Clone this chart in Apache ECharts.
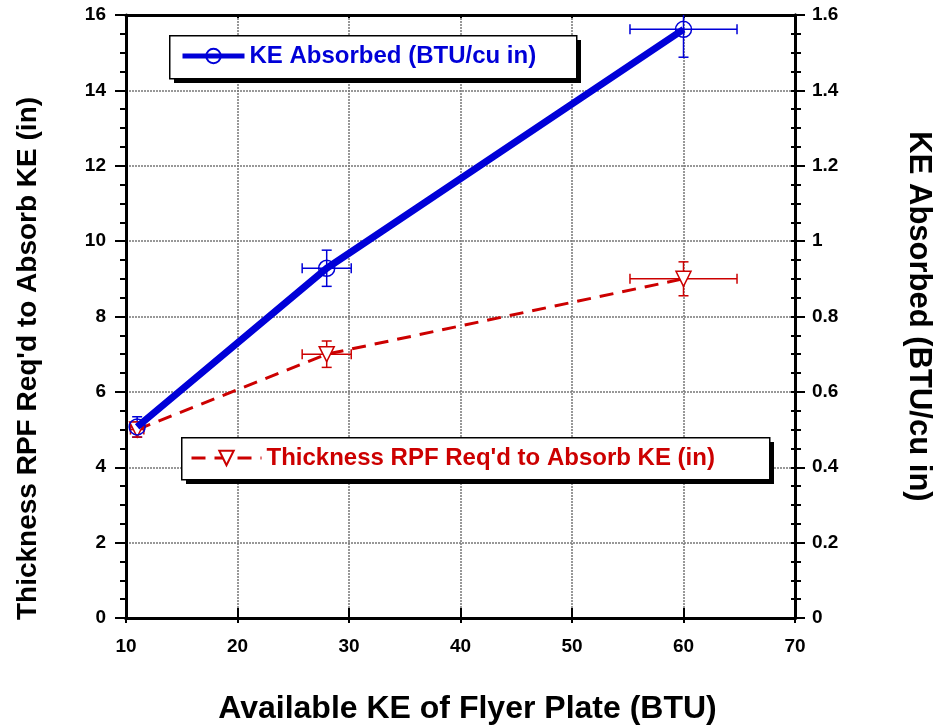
<!DOCTYPE html>
<html>
<head>
<meta charset="utf-8">
<script src="https://cdn.jsdelivr.net/npm/echarts@6/dist/echarts.min.js"></script>
<style>
  html, body { margin: 0; padding: 0; background: #fff; }
  #chart { width: 937px; height: 728px; }
</style>
</head>
<body>
<div id="chart"></div>
<script>
// x values (BTU)
var keAvailable = [11, 28, 60]
var keAvailableErr = [0.6, 2.2, 4.8]
// KE absorbed, right axis (BTU/cu in)
var keAbsorbed = [0.507, 0.928, 1.562]
var keAbsorbedErr = [0.027, 0.048, 0.074]
// thickness, left axis (in)
var thickness = [5.0, 7.0, 9.0]
var thicknessErr = [0.2, 0.35, 0.45]

var FONT = 'Liberation Sans, Arial, sans-serif'
var BLUE = '#0000d8'
var RED = '#cc0000'

var chart = echarts.init(document.getElementById('chart'))

function errItems(xs, ys, exs, eys) {
  return xs.map(function (x, i) { return [x, ys[i], exs[i], eys[i]] })
}

function renderErr(color) {
  return function (params, api) {
    var x = api.value(0), y = api.value(1), ex = api.value(2), ey = api.value(3)
    var l = api.coord([x - ex, y]), r = api.coord([x + ex, y])
    var t = api.coord([x, y + ey]), b = api.coord([x, y - ey])
    var top = params.coordSys.y
    var cap = 5
    var st = { stroke: color, lineWidth: 1.5 }
    var kids = [
      { type: 'line', shape: { x1: l[0], y1: l[1], x2: r[0], y2: r[1] }, style: st },
      { type: 'line', shape: { x1: l[0], y1: l[1] - cap, x2: l[0], y2: l[1] + cap }, style: st },
      { type: 'line', shape: { x1: r[0], y1: r[1] - cap, x2: r[0], y2: r[1] + cap }, style: st },
      { type: 'line', shape: { x1: t[0], y1: Math.max(t[1], top), x2: b[0], y2: b[1] }, style: st },
      { type: 'line', shape: { x1: b[0] - cap, y1: b[1], x2: b[0] + cap, y2: b[1] }, style: st }
    ]
    if (t[1] >= top) {
      kids.push({ type: 'line', shape: { x1: t[0] - cap, y1: t[1], x2: t[0] + cap, y2: t[1] }, style: st })
    }
    return { type: 'group', children: kids }
  }
}

// legend frame with a hard black drop shadow
function legendBox(x, y, w, h) {
  return [{
    type: 'rect', z: 5, left: x + 5, top: y + 5,
    shape: { width: w, height: h },
    style: { fill: '#000' }
  }, {
    type: 'rect', z: 5, left: x, top: y,
    shape: { width: w, height: h },
    style: { fill: '#fff', stroke: '#000', lineWidth: 1.5 }
  }]
}

var tickLabel = { color: '#000', fontFamily: FONT, fontWeight: 'bold', fontSize: 19 }
var dotted = { show: true, lineStyle: { color: '#777', width: 1.5, type: [2, 1] } }
var axLine = { show: true, lineStyle: { color: '#000', width: 3 } }
var tickStyle = { color: '#000', width: 2 }

chart.setOption({
  backgroundColor: '#fff',
  animation: false,
  textStyle: { fontFamily: FONT },
  grid: { left: 126, right: 142, top: 15, bottom: 110, outerBoundsMode: 'none', containLabel: false },
  graphic: legendBox(169, 35, 407, 43).concat(legendBox(181, 437, 588, 42)),
  legend: [{
    data: ['KE Absorbed (BTU/cu in)'],
    left: 180,
    top: 44,
    z: 6,
    padding: 0,
    itemWidth: 62,
    itemHeight: 18,
    lineStyle: { width: 5 },
    textStyle: { color: BLUE, fontFamily: FONT, fontWeight: 'bold', fontSize: 24 }
  }, {
    data: ['Thickness RPF Req\'d to Absorb KE (in)'],
    left: 190,
    top: 446,
    z: 6,
    padding: 0,
    itemWidth: 70,
    itemHeight: 18,
    lineStyle: { width: 3 },
    textStyle: { color: RED, fontFamily: FONT, fontWeight: 'bold', fontSize: 24 }
  }],
  xAxis: [{
    type: 'value',
    position: 'bottom',
    min: 10,
    max: 70,
    interval: 10,
    name: 'Available KE of Flyer Plate (BTU)',
    nameLocation: 'middle',
    nameGap: 75,
    nameTextStyle: { color: '#000', fontFamily: FONT, fontWeight: 'bold', fontSize: 32, padding: [0, 0, 0, 14] },
    axisLine: axLine,
    axisTick: { show: true, inside: false, length: 5, lineStyle: tickStyle },
    axisLabel: Object.assign({ margin: 19 }, tickLabel),
    splitLine: dotted
  }, {
    type: 'value', position: 'bottom', min: 10, max: 70, interval: 10,
    axisLine: axLine,
    axisTick: { show: true, inside: true, length: 5, lineStyle: tickStyle },
    axisLabel: { show: false }, splitLine: { show: false }
  }, {
    type: 'value', position: 'top', min: 10, max: 70, interval: 10,
    axisLine: axLine,
    axisTick: { show: true, inside: false, length: 10, lineStyle: tickStyle },
    axisLabel: { show: false }, splitLine: { show: false }
  }, {
    type: 'value', position: 'top', min: 10, max: 70, interval: 10,
    axisLine: axLine,
    axisTick: { show: true, inside: true, length: 3, lineStyle: tickStyle },
    axisLabel: { show: false }, splitLine: { show: false }
  }],
  yAxis: [{
    type: 'value',
    position: 'left',
    min: 0,
    max: 16,
    interval: 2,
    name: 'Thickness RPF Req\'d to Absorb KE (in)',
    nameLocation: 'middle',
    nameGap: 84,
    nameTextStyle: { color: '#000', fontFamily: FONT, fontWeight: 'bold', fontSize: 28, padding: [0, 84, 0, 0] },
    axisLine: axLine,
    axisTick: { show: true, inside: false, length: 11, lineStyle: tickStyle },
    minorTick: { show: true, splitNumber: 4, length: 6, lineStyle: tickStyle },
    axisLabel: Object.assign({ margin: 20 }, tickLabel),
    splitLine: dotted
  }, {
    type: 'value',
    position: 'right',
    min: 0,
    max: 1.6,
    interval: 0.2,
    name: 'KE Absorbed (BTU/cu in)',
    nameLocation: 'middle',
    nameGap: 108,
    nameRotate: -90,
    nameTextStyle: { color: '#000', fontFamily: FONT, fontWeight: 'bold', fontSize: 31 },
    axisLine: axLine,
    axisTick: { show: true, inside: false, length: 10, lineStyle: tickStyle },
    minorTick: { show: true, splitNumber: 4, length: 6, lineStyle: tickStyle },
    axisLabel: Object.assign({ margin: 17 }, tickLabel),
    splitLine: { show: false }
  }, {
    type: 'value', position: 'right', min: 0, max: 16, interval: 2,
    axisLine: axLine,
    axisTick: { show: true, inside: true, length: 4, lineStyle: tickStyle },
    minorTick: { show: true, splitNumber: 4, length: 4, lineStyle: tickStyle },
    axisLabel: { show: false }, splitLine: { show: false }
  }],
  series: [{
    name: 'KE Absorbed err',
    type: 'custom',
    xAxisIndex: 0,
    yAxisIndex: 1,
    z: 1,
    encode: { x: 0, y: 1 },
    renderItem: renderErr(BLUE),
    data: errItems(keAvailable, keAbsorbed, keAvailableErr, keAbsorbedErr)
  }, {
    name: 'Thickness err',
    type: 'custom',
    xAxisIndex: 0,
    yAxisIndex: 0,
    z: 1,
    encode: { x: 0, y: 1 },
    renderItem: renderErr(RED),
    data: errItems(keAvailable, thickness, keAvailableErr, thicknessErr)
  }, {
    name: 'Thickness RPF Req\'d to Absorb KE (in)',
    type: 'line',
    xAxisIndex: 0,
    yAxisIndex: 0,
    z: 3,
    symbol: 'triangle',
    symbolRotate: 180,
    symbolSize: 15,
    itemStyle: { color: '#fff', borderColor: RED, borderWidth: 1.5 },
    lineStyle: { color: RED, width: 3, type: [14, 9] },
    data: keAvailable.map(function (x, i) { return [x, thickness[i]] })
  }, {
    name: 'KE Absorbed (BTU/cu in)',
    type: 'line',
    xAxisIndex: 0,
    yAxisIndex: 1,
    z: 4,
    symbol: 'circle',
    symbolSize: 16,
    itemStyle: { color: 'rgba(255,255,255,0)', borderColor: BLUE, borderWidth: 1.5 },
    lineStyle: { color: BLUE, width: 7 },
    data: keAvailable.map(function (x, i) { return [x, keAbsorbed[i]] })
  }]
})
</script>
</body>
</html>
